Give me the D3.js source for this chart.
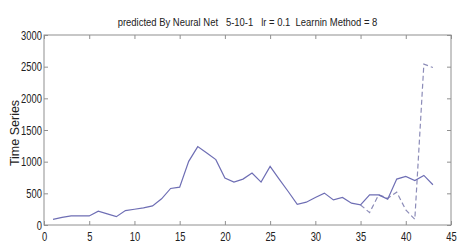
<!DOCTYPE html>
<html>
<head>
<meta charset="utf-8">
<script src="https://cdn.jsdelivr.net/npm/d3@7"></script>
<style>
  body { margin: 0; background: #fff; }
  svg { display: block; }
  text { font-family: "Liberation Sans", Arial, sans-serif; fill: #222; }
</style>
</head>
<body>
<svg width="457" height="244"></svg>
<script>
// data
var steps = d3.range(1, 44);
var actual = [90, 120, 143, 143, 143, 217, 175, 132, 227, 249, 270, 302, 413, 577, 598,
  1005, 1238, 1138, 1032, 741, 677, 725, 820, 677, 926, 725, 529, 328, 360, 434,
  503, 397, 434, 344, 317, 476, 476, 408, 725, 767, 703, 783, 635];
var predSteps = d3.range(35, 44);
var predicted = [317, 196, 476, 423, 518, 238, 90, 2540, 2487];
var xTicks = d3.range(0, 46, 5);
var yTicks = d3.range(0, 3001, 500);
var title = 'predicted By Neural Net   5-10-1   lr = 0.1  Learnin Method = 8';

var svg = d3.select('svg');
var mLeft = 44, mRight = 451, mTop = 35, mBottom = 225;
var squeeze = 0.72; // the original font is condensed

var x = d3.scaleLinear().domain([0, 45]).range([mLeft, mRight]);
var y = d3.scaleLinear().domain([0, 3000]).range([mBottom, mTop]);

// frame
svg.append('rect')
  .attr('x', mLeft).attr('y', mTop)
  .attr('width', mRight - mLeft).attr('height', mBottom - mTop)
  .attr('fill', '#fff').attr('stroke', '#909090').attr('stroke-width', 1);

// axes, ticks pointing in
var axisStyle = function(g){
  g.select('.domain').remove();
  g.selectAll('line').attr('stroke', '#909090');
  g.selectAll('text').style('font-size', '13px').attr('fill', '#222')
    .attr('transform', 'scale(' + squeeze + ',1)');
};

svg.append('g').attr('transform', 'translate(0,' + mBottom + ')')
  .call(d3.axisBottom(x).tickValues(xTicks).tickFormat(d3.format('d')).tickSizeInner(-4).tickPadding(7))
  .call(axisStyle);
// bottom labels: keep them centred on the tick after squeezing
svg.selectAll('g').filter(function(){ return false; });
svg.append('g').attr('transform', 'translate(0,' + mTop + ')')
  .call(d3.axisTop(x).tickValues(xTicks).tickFormat('').tickSizeInner(-4))
  .call(axisStyle);
svg.append('g').attr('transform', 'translate(' + mLeft + ',0)')
  .call(d3.axisLeft(y).tickValues(yTicks).tickFormat(d3.format('d')).tickSizeInner(-4).tickPadding(3))
  .call(axisStyle);
svg.append('g').attr('transform', 'translate(' + mRight + ',0)')
  .call(d3.axisRight(y).tickValues(yTicks).tickFormat('').tickSizeInner(-4))
  .call(axisStyle);

// lines
var line = d3.line().x(function(d){ return x(d[0]); }).y(function(d){ return y(d[1]); });

svg.append('path')
  .datum(predSteps.map(function(s, i){ return [s, predicted[i]]; }))
  .attr('d', line)
  .attr('fill', 'none').attr('stroke', '#8c8cb8').attr('stroke-width', 1.2)
  .attr('stroke-dasharray', '5,3');

svg.append('path')
  .datum(steps.map(function(s, i){ return [s, actual[i]]; }))
  .attr('d', line)
  .attr('fill', 'none').attr('stroke', '#6e6eb4').attr('stroke-width', 1.2);

// title, squeezed to the width it has in the original
var t = svg.append('text')
  .attr('text-anchor', 'middle')
  .style('font-size', '10.5px')
  .style('white-space', 'pre')
  .text(title);
var tw = t.node().getComputedTextLength();
t.attr('transform', 'translate(' + ((mLeft + mRight) / 2) + ',26) scale(' + (260 / tw) + ',1)');

svg.append('text')
  .attr('transform', 'translate(19,' + ((mTop + mBottom) / 2 + 3) + ') rotate(-90)')
  .attr('text-anchor', 'middle')
  .style('font-size', '12.5px')
  .text('Time Series');
</script>
</body>
</html>
